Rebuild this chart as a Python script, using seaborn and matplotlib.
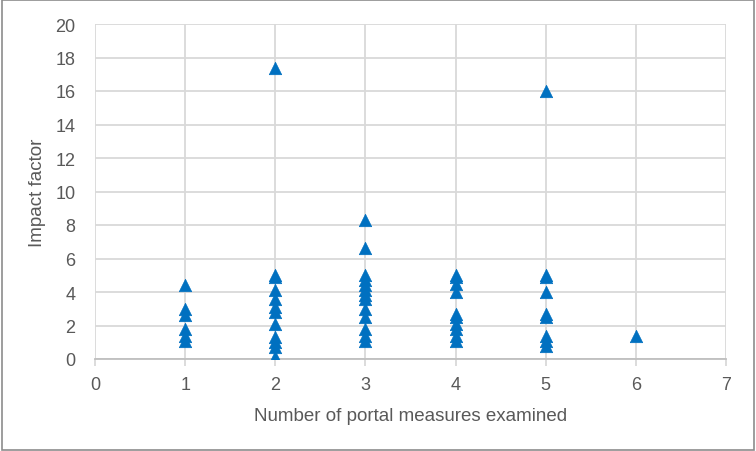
import matplotlib
matplotlib.use("Agg")
import matplotlib.pyplot as plt
import seaborn as sns
import pandas as pd

# Data
measures_1 = [4.4, 3.0, 2.6, 1.8, 1.4, 1.1]
measures_2 = [17.4, 5.0, 4.9, 4.1, 3.6, 3.1, 2.8, 2.1, 1.3, 1.0, 0.7, 0.1]
measures_3 = [8.3, 6.6, 5.0, 4.7, 4.4, 4.1, 3.8, 3.6, 3.0, 2.5, 1.8, 1.4, 1.1]
measures_4 = [5.0, 4.9, 4.5, 4.0, 2.7, 2.5, 2.1, 1.8, 1.4, 1.1]
measures_5 = [16.0, 5.0, 4.9, 4.0, 2.7, 2.5, 1.4, 1.1, 0.8]
measures_6 = [1.4]

x_label = "Number of portal measures examined"
y_label = "Impact factor"
x_ticks = [0, 1, 2, 3, 4, 5, 6, 7]
y_ticks = [0, 2, 4, 6, 8, 10, 12, 14, 16, 18, 20]

groups = [measures_1, measures_2, measures_3, measures_4, measures_5, measures_6]
rows = []
for n, vals in enumerate(groups, start=1):
    for v in vals:
        rows.append({"measures": n, "impact": v})
df = pd.DataFrame(rows)

sns.set_theme(style="white")
plt.rcParams["font.family"] = ["Liberation Sans", "DejaVu Sans"]

fig = plt.figure(figsize=(7.56, 4.52), dpi=100)
ax = fig.add_axes([95 / 756, 1 - 360 / 452, (726 - 95) / 756, (360 - 25) / 452])

grid_c = "#d9d9d9"
ax.set_axisbelow(True)
ax.grid(True, color=grid_c, linewidth=1.3)

sns.scatterplot(data=df, x="measures", y="impact", marker="^", s=80,
                color="#0070C0", edgecolor="#0070C0", linewidth=0.5, ax=ax, zorder=3)

ax.set_xlim(0, 7)
ax.set_ylim(0, 20)
ax.set_xticks(x_ticks)
ax.set_yticks(y_ticks)

for s in ["top", "right", "left"]:
    ax.spines[s].set_visible(False)
ax.spines["bottom"].set_color("#bfbfbf")
ax.spines["bottom"].set_linewidth(1.3)

ax.tick_params(axis="x", which="both", bottom=True, length=5, width=1.3,
               color=grid_c, labelcolor="#595959", labelsize=13, pad=7)
ax.tick_params(axis="y", left=False, labelcolor="#595959", labelsize=13, pad=8)

ax.set_xlabel(x_label, fontsize=13.5, color="#595959", labelpad=10)
ax.set_ylabel(y_label, fontsize=13.5, color="#595959", labelpad=7)

# Figure border
border = plt.Rectangle((0.002, 0.002), 0.996, 0.995, transform=fig.transFigure,
                       fill=False, edgecolor="#8c8c8c", linewidth=1.2)
fig.patches.append(border)

fig.savefig("out.png", dpi=100)
